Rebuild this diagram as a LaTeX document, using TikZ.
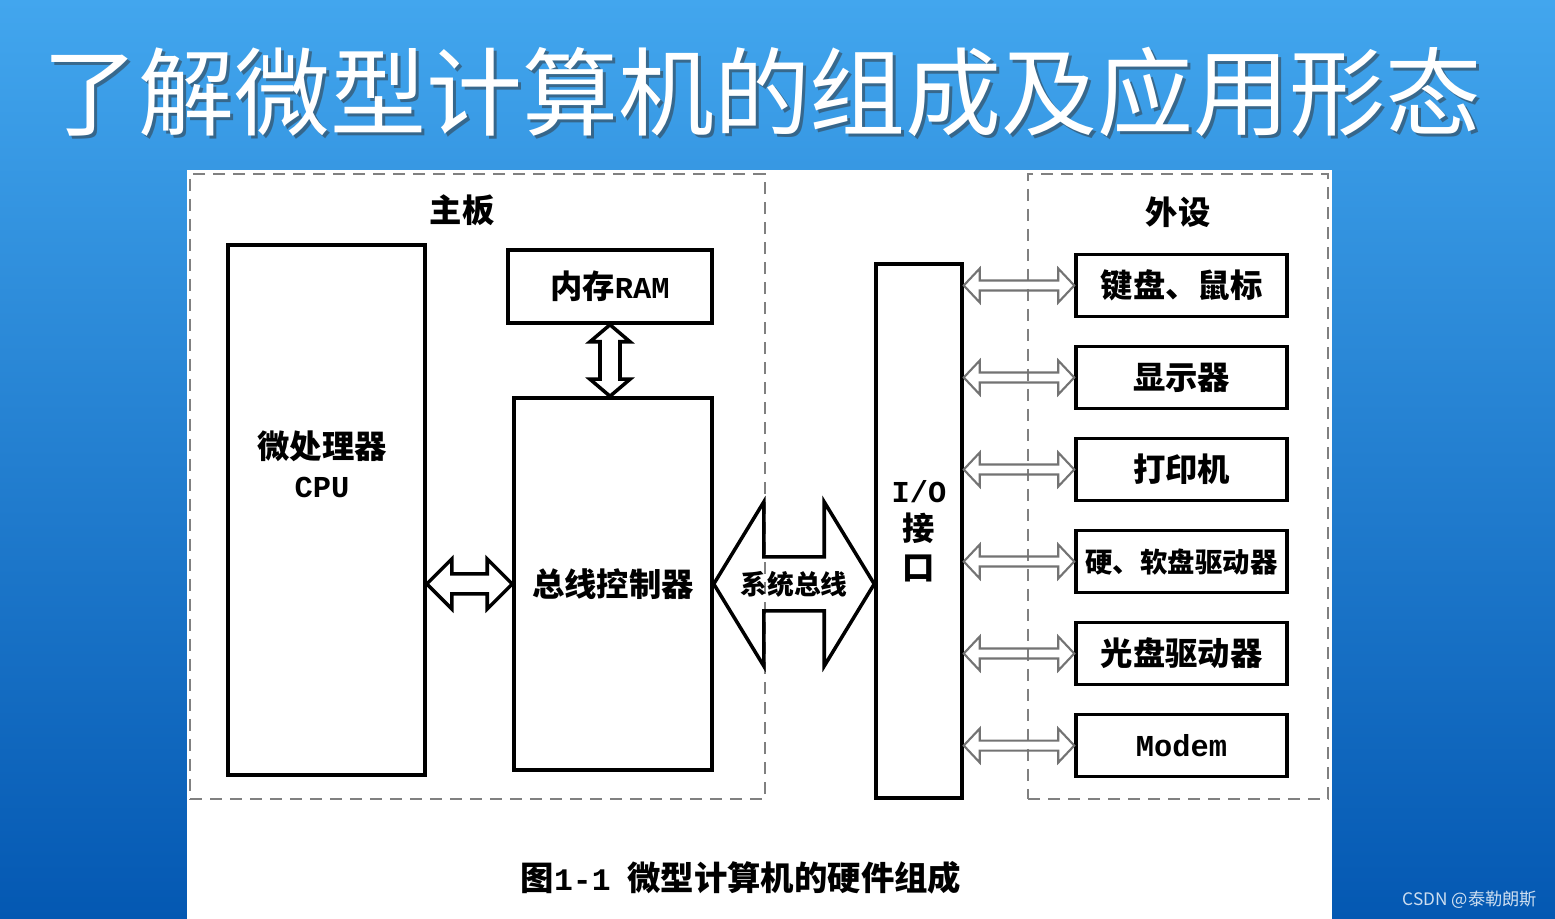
\documentclass[tikz,border=0pt]{standalone}
\usepackage{fontspec}
\setmainfont{Noto Sans CJK SC}
\setmonofont{Liberation Mono}[Scale=0.94]
\usepackage{xcolor}
\usepackage{tikz}
\usetikzlibrary{positioning, calc}

\definecolor{bgtop}{RGB}{66,166,238}
\definecolor{bgbot}{RGB}{4,88,178}

% hollow double arrows: style, from, to, shaft half, head half, head length
\newcommand{\hollowh}[6]{%
  \draw[#1] let \p1=(#2), \p2=(#3) in
    (\x1,\y1) -- (\x1+#6,\y1+#5) -- (\x1+#6,\y1+#4) -- (\x2-#6,\y1+#4) -- (\x2-#6,\y1+#5)
    -- (\x2,\y1) -- (\x2-#6,\y1-#5) -- (\x2-#6,\y1-#4) -- (\x1+#6,\y1-#4) -- (\x1+#6,\y1-#5) -- cycle;}
\newcommand{\hollowv}[6]{%
  \draw[#1] let \p1=(#2), \p2=(#3) in
    (\x1,\y1) -- (\x1+#5,\y1-#6) -- (\x1+#4,\y1-#6) -- (\x1+#4,\y2+#6) -- (\x1+#5,\y2+#6)
    -- (\x1,\y2) -- (\x1-#5,\y2+#6) -- (\x1-#4,\y2+#6) -- (\x1-#4,\y1-#6) -- (\x1-#5,\y1-#6) -- cycle;}

\begin{document}
\begin{tikzpicture}[x=1cm, y=-1cm, node distance=0.265cm]
    \tikzstyle{block} = [rectangle, draw, line width=1pt, fill=white, align=center, inner sep=0pt, font=\bfseries\fontsize{9.2}{11}\selectfont]
    \tikzstyle{device} = [block, minimum width=2.11cm, minimum height=0.62cm]
    \tikzstyle{group} = [rectangle, draw=black!50, line width=0.8pt, dash pattern=on 0.12cm off 0.08cm]
    \tikzstyle{caption} = [font=\bfseries\fontsize{9.2}{11}\selectfont, align=center]
    \tikzstyle{fatarrow} = [line width=1pt]
    \tikzstyle{thinarrow} = [draw=black!55, line width=0.6pt]

    \useasboundingbox (0,0) rectangle (15.55,9.19);
    \shade[top color=bgtop, bottom color=bgbot] (0,0) rectangle (15.55,9.19);
    \fill[white] (1.87,1.70) rectangle (13.32,9.19);

    \node[text=black!80, opacity=0.5, font=\fontsize{27.3}{30}\selectfont] (headshadow) at (7.65,0.95) {了解微型计算机的组成及应用形态};
    \node[text=white, font=\fontsize{27.3}{30}\selectfont] (heading) at (7.62,0.92) {了解微型计算机的组成及应用形态};

    \node[group, minimum width=5.75cm, minimum height=6.25cm] (board) at (4.775,4.865) {};
    \node[caption] (boardname) at (4.62,2.10) {主板};
    \node[group, minimum width=3.00cm, minimum height=6.25cm] (periph) at (11.78,4.865) {};
    \node[caption] (periphname) at (11.78,2.12) {外设};

    \node[block, minimum width=1.97cm, minimum height=5.30cm] (cpu) at (3.265,5.10) {};
    \node[caption] (cputext) at (3.22,4.64) {微处理器\\\texttt{CPU}};
    \node[block, minimum width=2.04cm, minimum height=0.73cm] (ram) at (6.10,2.865) {内存\texttt{RAM}};
    \node[block, minimum width=1.98cm, minimum height=3.72cm] (ctrl) at (6.13,5.84) {总线控制器};
    \node[block, minimum width=0.86cm, minimum height=5.34cm] (io) at (9.19,5.31) {\texttt{I/O}\\接\\口};

    \node[device] (kbd) at (11.815,2.855) {键盘、鼠标};
    \node[device, below=of kbd] (disp) {显示器};
    \node[device, below=of disp] (prn) {打印机};
    \node[device, below=of prn, font=\bfseries\fontsize{7.8}{9}\selectfont] (disk) {硬、软盘驱动器};
    \node[device, below=of disk] (cd) {光盘驱动器};
    \node[device, below=of cd] (modem) {\texttt{Modem}};

    \hollowh{fatarrow}{cpu.east |- ctrl.west}{ctrl.west}{0.10cm}{0.25cm}{0.25cm}
    \hollowh{fatarrow}{ctrl.east}{io.west |- ctrl.east}{0.27cm}{0.82cm}{0.50cm}
    \node[font=\bfseries\fontsize{7.6}{9}\selectfont] (bus) at ($(ctrl.east)!0.5!(io.west |- ctrl.east)$) {系统总线};
    \hollowv{fatarrow}{ram.south}{ram.south |- ctrl.north}{0.10cm}{0.20cm}{0.17cm}
    \foreach \dev in {kbd,disp,prn,disk,cd,modem} {
        \hollowh{thinarrow}{io.east |- \dev.west}{\dev.west}{0.05cm}{0.17cm}{0.16cm}
    }

    \node[caption, font=\bfseries\fontsize{9.5}{11}\selectfont] (figcap) at (7.41,8.78) {图\texttt{1-1}\enspace 微型计算机的硬件组成};
    \node[text=white!80!bgbot, font=\fontsize{4.9}{6}\selectfont] (mark) at (14.70,9.00) {CSDN @泰勒朗斯};
\end{tikzpicture}
\end{document}
